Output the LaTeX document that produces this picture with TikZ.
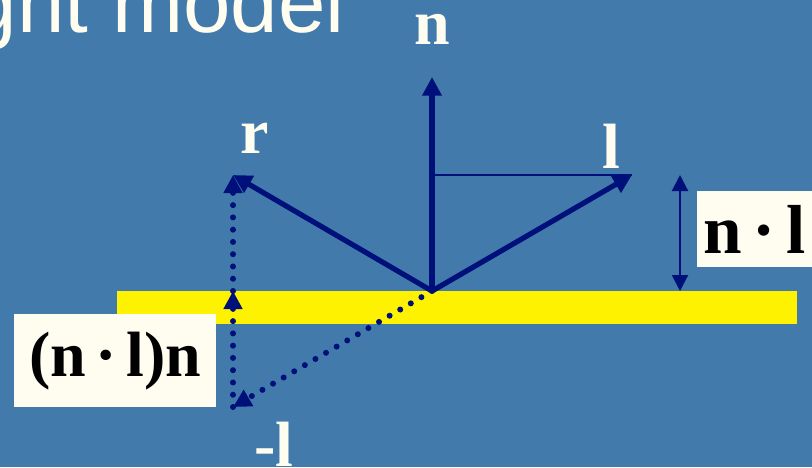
\documentclass[tikz,border=0pt]{standalone}
\usepackage{fontspec}
\setmainfont{Liberation Serif}
\newfontfamily\titlefont{Liberation Sans}
\usetikzlibrary{arrows.meta,positioning}
\definecolor{slideblue}{RGB}{66,122,171}
\definecolor{vecnavy}{RGB}{0,16,122}
\definecolor{cream}{RGB}{255,253,240}
\tikzset{
  lm/vector/.style={vecnavy, line width=3.9pt, -{Triangle[length=14pt,width=14pt]}},
  lm/dotted/.style={vecnavy, line width=4.5pt, line cap=round, dash pattern=on 0pt off 9.2pt, -{Triangle[length=13.5pt,width=13.5pt]}},
  lm/thin/.style={vecnavy, line width=1.5pt},
  lm/dim/.style={lm/thin, {Triangle[length=12pt,width=12pt]}-{Triangle[length=12pt,width=12pt]}},
  lm/label/.style={text=cream, font=\fontsize{48}{52}\selectfont\bfseries, inner sep=0pt, anchor=base},
  lm/box/.style={fill=cream, text=black, inner sep=0pt, anchor=north west},
  lm/surface/.style={fill=yellow}
}

\begin{document}
\begin{tikzpicture}[x=0.75pt, y=-0.75pt]
  \fill[slideblue] (0,0) rectangle (812,467);
  \useasboundingbox (0,0) rectangle (812,467);
  \fill[lm/surface] (117,291) rectangle (797,324);

  \node[text=cream, font=\titlefont\fontsize{64}{70}\selectfont, anchor=base east, inner sep=0pt] (title) at (345,33) {ght model};

  \coordinate (O) at (432,291);
  \coordinate (ntip) at (432,77);
  \coordinate (ltip) at (632,175);
  \coordinate (rtip) at (233,175);
  \coordinate (mltip) at (233,407);
  \coordinate (proj) at (rtip |- O);
  \coordinate (lfoot) at (ltip -| O);
  \coordinate (dimtop) at (680,175);
  \coordinate (dimbot) at (680,291);

  \node[lm/label, above=24pt of ntip] (nlab) {n};
  \node[lm/label] (rlab) at (255,153) {r};
  \node[lm/label] (llab) at (611,168) {l};
  \node[lm/label] (mllab) at (274,466) {-l};

  \draw[lm/thin] (lfoot) -- (ltip);
  \draw[lm/vector] (O) -- (ntip);
  \draw[lm/vector] (O) -- (ltip);
  \draw[lm/vector] (O) -- (rtip);
  \draw[lm/dotted] (O) -- (mltip);
  \draw[lm/dotted] (mltip) -- (proj);
  \draw[lm/dotted] (proj) -- (rtip);
  \draw[lm/dim] (dimtop) -- (dimbot);

  \node[lm/box, minimum width=86.25pt, minimum height=57pt, font=\fontsize{52}{56}\selectfont\bfseries] (nlbox) at (697,191) {n\hspace{0.15em}·\hspace{0.15em}l};
  \node[lm/box, minimum width=151.5pt, minimum height=69.75pt, font=\fontsize{48}{52}\selectfont\bfseries] (nlnbox) at (14,314) {(n\hspace{0.15em}·\hspace{0.15em}l)n};
\end{tikzpicture}
\end{document}
